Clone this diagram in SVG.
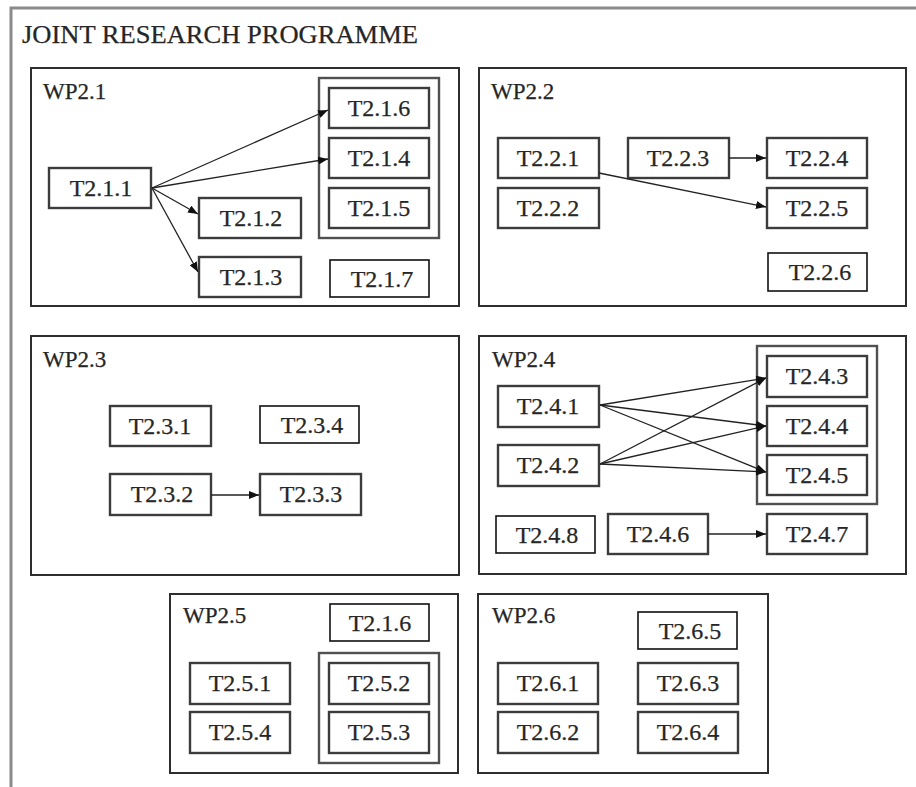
<svg xmlns="http://www.w3.org/2000/svg" width="916" height="787" viewBox="0 0 916 787">
  <style>
    text { font-family: "Liberation Serif", "Times New Roman", serif; fill: #262626; stroke: #262626; stroke-width: 0.25; }
    .title { font-size: 26px; }
    .wpl { font-size: 23px; }
    .tl { font-size: 24px; text-anchor: middle; }
    .wp { fill: none; stroke: #2e2e2e; stroke-width: 2; }
    .grp { fill: none; stroke: #505050; stroke-width: 2.4; }
    .task { fill: #fff; stroke: #3c3c3c; stroke-width: 2.4; }
    .plain { fill: #fff; stroke: #111; stroke-width: 1.6; }
    .frame { stroke: #8a8a8a; stroke-width: 3; fill: none; }
    .conn { stroke: #222; stroke-width: 1.3; fill: none; marker-end: url(#arrow); }
  </style>
  <defs>
    <marker id="arrow" markerUnits="userSpaceOnUse" markerWidth="11" markerHeight="8" refX="10" refY="4" orient="auto">
      <path d="M0,0 L10,4 L0,8 z" fill="#111"/>
    </marker>
  </defs>
  <rect width="916" height="787" fill="#fff"/>

  <!-- programme frame: top and left rules only -->
  <g id="programme">
    <path class="frame" d="M11,787 V8 H916"/>
    <text class="title" x="22" y="43" textLength="396" lengthAdjust="spacingAndGlyphs">JOINT RESEARCH PROGRAMME</text>
  </g>

  <!-- work packages -->
  <g id="wp2-1"><rect class="wp" x="31" y="68" width="428" height="238"/><text class="wpl" x="43" y="99">WP2.1</text></g>
  <g id="wp2-2"><rect class="wp" x="479" y="68" width="427" height="238"/><text class="wpl" x="491" y="99">WP2.2</text></g>
  <g id="wp2-3"><rect class="wp" x="31" y="336" width="428" height="239"/><text class="wpl" x="43" y="367">WP2.3</text></g>
  <g id="wp2-4"><rect class="wp" x="479" y="336" width="427" height="238"/><text class="wpl" x="492" y="367">WP2.4</text></g>
  <g id="wp2-5"><rect class="wp" x="170" y="594" width="288" height="179"/><text class="wpl" x="183" y="623">WP2.5</text></g>
  <g id="wp2-6"><rect class="wp" x="478" y="594" width="290" height="179"/><text class="wpl" x="492" y="623">WP2.6</text></g>

  <!-- grouping frames -->
  <g id="grp-2-1"><rect class="grp" x="319" y="78" width="120" height="160"/></g>
  <g id="grp-2-4"><rect class="grp" x="757" y="346" width="120" height="158"/></g>
  <g id="grp-2-5"><rect class="grp" x="319" y="653" width="120" height="110"/></g>

  <!-- WP2.1 tasks -->
  <g id="t2-1-1"><rect class="task" x="49" y="168" width="102" height="40"/><text class="tl" x="101" y="196">T2.1.1</text></g>
  <g id="t2-1-2"><rect class="task" x="199" y="198" width="102" height="40"/><text class="tl" x="251" y="226">T2.1.2</text></g>
  <g id="t2-1-3"><rect class="task" x="199" y="257" width="102" height="40"/><text class="tl" x="251" y="285">T2.1.3</text></g>
  <g id="t2-1-6"><rect class="task" x="329" y="88" width="100" height="40"/><text class="tl" x="379" y="116">T2.1.6</text></g>
  <g id="t2-1-4"><rect class="task" x="329" y="138" width="100" height="40"/><text class="tl" x="379" y="166">T2.1.4</text></g>
  <g id="t2-1-5"><rect class="task" x="329" y="188" width="100" height="40"/><text class="tl" x="379" y="216">T2.1.5</text></g>
  <g id="t2-1-7"><rect class="plain" x="330" y="260" width="99" height="37"/><text class="tl" x="382" y="287">T2.1.7</text></g>

  <!-- WP2.2 tasks -->
  <g id="t2-2-1"><rect class="task" x="498" y="138" width="101" height="40"/><text class="tl" x="548" y="166">T2.2.1</text></g>
  <g id="t2-2-2"><rect class="task" x="498" y="188" width="101" height="40"/><text class="tl" x="548" y="216">T2.2.2</text></g>
  <g id="t2-2-3"><rect class="task" x="628" y="138" width="101" height="40"/><text class="tl" x="678" y="166">T2.2.3</text></g>
  <g id="t2-2-4"><rect class="task" x="767" y="138" width="100" height="40"/><text class="tl" x="817" y="166">T2.2.4</text></g>
  <g id="t2-2-5"><rect class="task" x="767" y="188" width="100" height="40"/><text class="tl" x="817" y="216">T2.2.5</text></g>
  <g id="t2-2-6"><rect class="plain" x="768" y="253" width="99" height="38"/><text class="tl" x="820" y="280">T2.2.6</text></g>

  <!-- WP2.3 tasks -->
  <g id="t2-3-1"><rect class="task" x="110" y="406" width="101" height="40"/><text class="tl" x="160" y="434">T2.3.1</text></g>
  <g id="t2-3-4"><rect class="plain" x="260" y="406" width="99" height="37"/><text class="tl" x="312" y="433">T2.3.4</text></g>
  <g id="t2-3-2"><rect class="task" x="110" y="474" width="101" height="41"/><text class="tl" x="162" y="502">T2.3.2</text></g>
  <g id="t2-3-3"><rect class="task" x="260" y="474" width="101" height="41"/><text class="tl" x="311" y="502">T2.3.3</text></g>

  <!-- WP2.4 tasks -->
  <g id="t2-4-1"><rect class="task" x="498" y="386" width="101" height="41"/><text class="tl" x="548" y="414">T2.4.1</text></g>
  <g id="t2-4-2"><rect class="task" x="498" y="445" width="101" height="41"/><text class="tl" x="548" y="473">T2.4.2</text></g>
  <g id="t2-4-3"><rect class="task" x="767" y="356" width="100" height="41"/><text class="tl" x="817" y="384">T2.4.3</text></g>
  <g id="t2-4-4"><rect class="task" x="767" y="406" width="100" height="40"/><text class="tl" x="817" y="434">T2.4.4</text></g>
  <g id="t2-4-5"><rect class="task" x="767" y="455" width="100" height="40"/><text class="tl" x="817" y="483">T2.4.5</text></g>
  <g id="t2-4-8"><rect class="plain" x="496" y="516" width="99" height="37"/><text class="tl" x="547" y="543">T2.4.8</text></g>
  <g id="t2-4-6"><rect class="task" x="608" y="514" width="100" height="40"/><text class="tl" x="658" y="542">T2.4.6</text></g>
  <g id="t2-4-7"><rect class="task" x="767" y="514" width="100" height="40"/><text class="tl" x="817" y="542">T2.4.7</text></g>

  <!-- WP2.5 tasks -->
  <g id="t2-5-t216"><rect class="plain" x="330" y="604" width="99" height="37"/><text class="tl" x="380" y="631">T2.1.6</text></g>
  <g id="t2-5-1"><rect class="task" x="190" y="663" width="100" height="41"/><text class="tl" x="240" y="691">T2.5.1</text></g>
  <g id="t2-5-4"><rect class="task" x="190" y="712" width="100" height="41"/><text class="tl" x="240" y="740">T2.5.4</text></g>
  <g id="t2-5-2"><rect class="task" x="329" y="663" width="100" height="41"/><text class="tl" x="379" y="691">T2.5.2</text></g>
  <g id="t2-5-3"><rect class="task" x="329" y="712" width="100" height="41"/><text class="tl" x="379" y="740">T2.5.3</text></g>

  <!-- WP2.6 tasks -->
  <g id="t2-6-5"><rect class="plain" x="638" y="612" width="99" height="37"/><text class="tl" x="690" y="639">T2.6.5</text></g>
  <g id="t2-6-1"><rect class="task" x="498" y="663" width="100" height="41"/><text class="tl" x="548" y="691">T2.6.1</text></g>
  <g id="t2-6-2"><rect class="task" x="498" y="712" width="100" height="41"/><text class="tl" x="548" y="740">T2.6.2</text></g>
  <g id="t2-6-3"><rect class="task" x="638" y="663" width="100" height="41"/><text class="tl" x="688" y="691">T2.6.3</text></g>
  <g id="t2-6-4"><rect class="task" x="638" y="712" width="100" height="41"/><text class="tl" x="688" y="740">T2.6.4</text></g>

  <!-- dependencies -->
  <g id="connectors">
    <line class="conn" x1="152" y1="188" x2="328" y2="110"/>
    <line class="conn" x1="152" y1="188" x2="328" y2="159"/>
    <line class="conn" x1="152" y1="188" x2="198" y2="214"/>
    <line class="conn" x1="152" y1="188" x2="198" y2="272"/>
    <line class="conn" x1="729" y1="158" x2="766" y2="158"/>
    <line class="conn" x1="599" y1="173" x2="766" y2="207"/>
    <line class="conn" x1="211" y1="495" x2="259" y2="495"/>
    <line class="conn" x1="600" y1="405" x2="766" y2="378"/>
    <line class="conn" x1="600" y1="405" x2="766" y2="426"/>
    <line class="conn" x1="600" y1="405" x2="766" y2="472"/>
    <line class="conn" x1="600" y1="464" x2="766" y2="378"/>
    <line class="conn" x1="600" y1="464" x2="766" y2="426"/>
    <line class="conn" x1="600" y1="464" x2="766" y2="472"/>
    <line class="conn" x1="708" y1="534" x2="766" y2="534"/>
  </g>
</svg>
